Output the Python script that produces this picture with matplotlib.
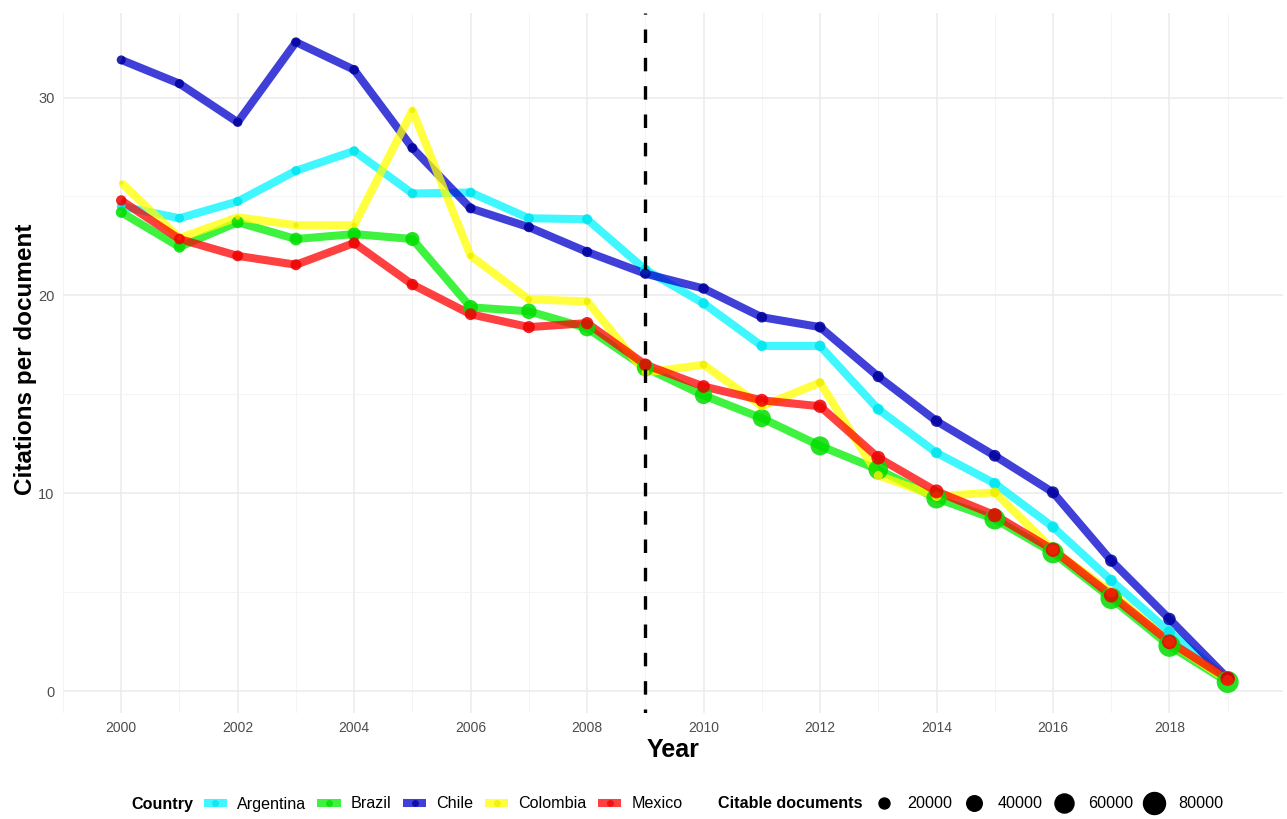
import matplotlib
matplotlib.use("Agg")
import matplotlib.pyplot as plt
from matplotlib.lines import Line2D
import numpy as np

plt.rcParams['font.family'] = ['Liberation Sans', 'DejaVu Sans']

years = list(range(2000, 2020))
countries = ["Argentina", "Brazil", "Chile", "Colombia", "Mexico"]

argentina = [24.5, 23.9, 24.75, 26.3, 27.3, 25.15, 25.2, 23.9, 23.85, 21.3,
             19.6, 17.45, 17.45, 14.25, 12.05, 10.5, 8.3, 5.6, 3.0, 0.6]
brazil = [24.2, 22.45, 23.7, 22.85, 23.1, 22.85, 19.4, 19.2, 18.35, 16.35,
          14.95, 13.8, 12.4, 11.2, 9.75, 8.7, 7.0, 4.7, 2.3, 0.47]
chile = [31.9, 30.7, 28.75, 32.8, 31.4, 27.45, 24.4, 23.45, 22.2, 21.1,
         20.35, 18.9, 18.4, 15.9, 13.65, 11.9, 10.05, 6.6, 3.65, 0.66]
colombia = [25.7, 22.9, 23.95, 23.55, 23.55, 29.35, 22.0, 19.8, 19.7, 16.1,
            16.5, 14.4, 15.6, 10.9, 9.85, 10.05, 7.15, 5.0, 2.5, 0.55]
mexico = [24.8, 22.85, 22.0, 21.55, 22.65, 20.55, 19.05, 18.4, 18.6, 16.5,
          15.4, 14.7, 14.4, 11.8, 10.1, 8.9, 7.15, 4.85, 2.5, 0.64]

# citable documents
docs_argentina = [13000, 13500, 14000, 14500, 15000, 15500, 16000, 16500, 17000, 17500,
                  18000, 18500, 19000, 19500, 20000, 20500, 21000, 21500, 22000, 21000]
docs_brazil = [20000, 22000, 24000, 27000, 30000, 33000, 36000, 40000, 45000, 48000,
               50000, 54000, 60000, 64000, 68000, 71000, 74000, 77000, 81000, 80000]
docs_chile = [13500, 14000, 14500, 15000, 15500, 16000, 16500, 17000, 17500, 18000,
              18500, 19000, 20000, 21000, 22000, 23000, 24000, 25000, 26000, 25000]
docs_colombia = [3000, 3500, 4000, 4500, 5000, 5500, 6500, 7500, 8500, 9500,
                 10500, 11500, 12500, 13500, 15000, 16000, 17500, 19000, 20000, 19500]
docs_mexico = [18000, 19000, 19500, 20000, 21000, 22000, 23000, 24000, 25000, 26000,
               27000, 28000, 29500, 31000, 32000, 33000, 34000, 35000, 36000, 35500]

size_breaks = [20000, 40000, 60000, 80000]
xticks = [2000, 2002, 2004, 2006, 2008, 2010, 2012, 2014, 2016, 2018]
yticks = [0, 10, 20, 30]
cutoff_year = 2009

series = {
    "Argentina": (argentina, docs_argentina, "#00F5FF", "#00E5EE"),
    "Brazil": (brazil, docs_brazil, "#00EE00", "#00DD00"),
    "Chile": (chile, docs_chile, "#0000CD", "#00009C"),
    "Colombia": (colombia, docs_colombia, "#FFFF00", "#EEEE00"),
    "Mexico": (mexico, docs_mexico, "#FF0000", "#EE0000"),
}

def msize(v):
    # area proportional to value; diameter in px = 0.0778*sqrt(v)
    d_px = 0.0778 * np.sqrt(np.asarray(v, dtype=float))
    d_pt = d_px * 0.72
    return d_pt ** 2

W, H = 1287, 819
L, R, T, B = 63, 1283, 13, 713
fig = plt.figure(figsize=(W / 100, H / 100), dpi=100)
ax = fig.add_axes([L / W, 1 - B / H, (R - L) / W, (B - T) / H])

for name in countries:
    vals, docs, lc, pc = series[name]
    ax.plot(years, vals, color=lc, lw=5.8, alpha=0.75, solid_capstyle='butt',
            solid_joinstyle='round', zorder=3)
    ax.scatter(years, vals, s=msize(docs), color=pc, alpha=0.85, lw=0, zorder=4)

ax.axvline(cutoff_year, color='black', lw=2.4, ls=(2.85, (4.05, 4.45)), zorder=5)

ax.set_xlim(1999.05, 2019.95)
ax.set_ylim(-1.097, 34.27)
ax.set_xticks(xticks)
ax.set_xticks([y for y in years if y not in xticks] + [1999], minor=True)
ax.set_yticks(yticks)
ax.set_yticks([5, 15, 25], minor=True)
ax.grid(which='major', color='#EBEBEB', lw=1.1)
ax.grid(which='minor', color='#F2F2F2', lw=0.6)
ax.set_axisbelow(True)
for s in ax.spines.values():
    s.set_visible(False)
ax.tick_params(which='both', length=0)
ax.tick_params(axis='x', labelsize=10, labelcolor='#4D4D4D', pad=5.5)
ax.tick_params(axis='y', labelsize=10.5, labelcolor='#4D4D4D', pad=6)
ax.set_xlabel("Year", fontsize=18, fontweight='bold')
ax.xaxis.set_label_coords(0.5, -(762 - 713) / (B - T), transform=ax.transAxes)
ax.xaxis.label.set_va('bottom')
ax.set_ylabel("Citations per document", fontsize=17.5, fontweight='bold')
ax.yaxis.set_label_coords(-(L - 37) / (R - L), (B - 359) / (B - T))

# Legends
ly = 1 - 804 / H
fs = 11.6
fig.text(131 / W, ly, "Country", fontsize=fs, fontweight='bold', va='center', ha='left')
handles = []
for name in countries:
    vals, docs, lc, pc = series[name]
    handles.append(Line2D([0], [0], color=lc, lw=5.8, alpha=0.75, marker='o',
                          markersize=5, markerfacecolor=pc, markeredgewidth=0,
                          solid_capstyle='butt'))
leg1 = fig.legend(handles, countries, loc='center left', bbox_to_anchor=(203.5 / W, ly),
                  ncol=5, frameon=False, fontsize=fs, handlelength=1.46,
                  handletextpad=0.62, columnspacing=0.7, borderaxespad=0, borderpad=0)

fig.text(718 / W, ly, "Citable documents", fontsize=fs, fontweight='bold', va='center', ha='left')
sh = []
for b in size_breaks:
    d_px = 0.0778 * np.sqrt(b)
    sh.append(Line2D([0], [0], lw=0, marker='o', markersize=d_px * 0.72, color='black'))
leg2 = fig.legend(sh, [str(b) for b in size_breaks], loc='center left',
                  bbox_to_anchor=(872.5 / W, ly), ncol=4, frameon=False, fontsize=fs,
                  handlelength=1.366, handletextpad=0.82, columnspacing=0.62,
                  borderaxespad=0, borderpad=0)

fig.savefig("out.png", dpi=100, facecolor='white')
